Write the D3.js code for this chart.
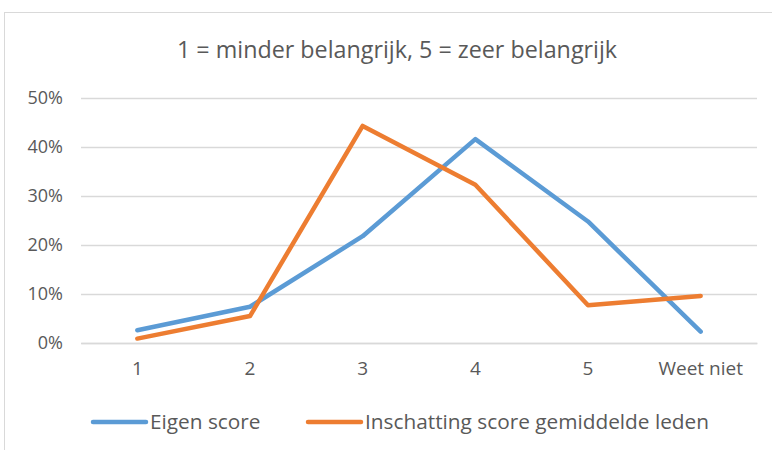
<!DOCTYPE html>
<html>
<head>
<meta charset="utf-8">
<script src="https://cdn.jsdelivr.net/npm/d3@7"></script>
<style>
  body { margin: 0; background: #fff; }
  text { font-family: "Open Sans", sans-serif; fill: #595959; }
</style>
</head>
<body>
<div id="chart"></div>
<script>
// Data
var categories = ["1", "2", "3", "4", "5", "Weet niet"];
var eigenScore = [2.6, 7.4, 21.8, 41.6, 24.8, 2.3];
var inschatting = [0.9, 5.5, 44.3, 32.3, 7.7, 9.6];
var yTicks = [0, 10, 20, 30, 40, 50];
var seriesNames = ["Eigen score", "Inschatting score gemiddelde leden"];
var seriesColors = ["#5B9BD5", "#ED7D31"];
var title = "1 = minder belangrijk, 5 = zeer belangrijk";

var svgWidth = 772;
var svgHeight = 450;

var margin = { top: 98, right: 15, bottom: 107, left: 81 };
var width = 757 - margin.left;
var height = 343 - margin.top;

var svg = d3.select("#chart")
  .append("svg")
  .attr("width", svgWidth)
  .attr("height", svgHeight);

// chart frame
svg.append("rect")
  .attr("x", 4.5)
  .attr("y", 12.5)
  .attr("width", 800)
  .attr("height", 500)
  .attr("fill", "none")
  .attr("stroke", "#D9D9D9");

svg.append("text")
  .attr("x", 397)
  .attr("y", 58)
  .attr("text-anchor", "middle")
  .style("font-size", "23.3px")
  .text(title);

var chartGroup = svg.append("g")
  .attr("transform", `translate(${margin.left}, ${margin.top})`);

var xScale = d3.scaleBand()
  .domain(categories)
  .range([0, width]);

var yScale = d3.scaleLinear()
  .domain([0, 50])
  .range([height, 0]);

// gridlines + y labels
var leftAxis = d3.axisLeft(yScale)
  .tickValues(yTicks)
  .tickSize(-width)
  .tickPadding(18)
  .tickFormat(d => d + "%");

var yAxis = chartGroup.append("g")
  .call(leftAxis);
yAxis.select(".domain").remove();
yAxis.selectAll("line").attr("stroke", "#D9D9D9").attr("stroke-width", 1.3);
yAxis.selectAll("text")
  .style("font-size", "18px")
  .style("font-family", "'Open Sans', sans-serif")
  .attr("fill", "#595959");

var bottomAxis = d3.axisBottom(xScale)
  .tickSize(0)
  .tickPadding(19);

var xAxis = chartGroup.append("g")
  .attr("transform", `translate(0, ${height})`)
  .call(bottomAxis);
xAxis.select(".domain").attr("stroke", "#D9D9D9").attr("stroke-width", 1.3);
xAxis.selectAll("text")
  .style("font-size", "19px")
  .style("font-family", "'Open Sans', sans-serif")
  .attr("fill", "#595959");

var line = d3.line()
  .x((d, i) => xScale(categories[i]) + xScale.bandwidth() / 2)
  .y(d => yScale(d));

[eigenScore, inschatting].forEach(function(values, i) {
  chartGroup.append("path")
    .datum(values)
    .attr("d", line)
    .attr("fill", "none")
    .attr("stroke", seriesColors[i])
    .attr("stroke-width", 4.5)
    .attr("stroke-linejoin", "round")
    .attr("stroke-linecap", "round");
});

// legend
var legendX = [93, 308];
var legend = svg.append("g");
seriesNames.forEach(function(name, i) {
  legend.append("line")
    .attr("x1", legendX[i])
    .attr("x2", legendX[i] + 53)
    .attr("y1", 422)
    .attr("y2", 422)
    .attr("stroke", seriesColors[i])
    .attr("stroke-width", 4.5)
    .attr("stroke-linecap", "round");
  legend.append("text")
    .attr("x", legendX[i] + 57)
    .attr("y", 429)
    .style("font-size", "20.8px")
    .text(name);
});
</script>
</body>
</html>
